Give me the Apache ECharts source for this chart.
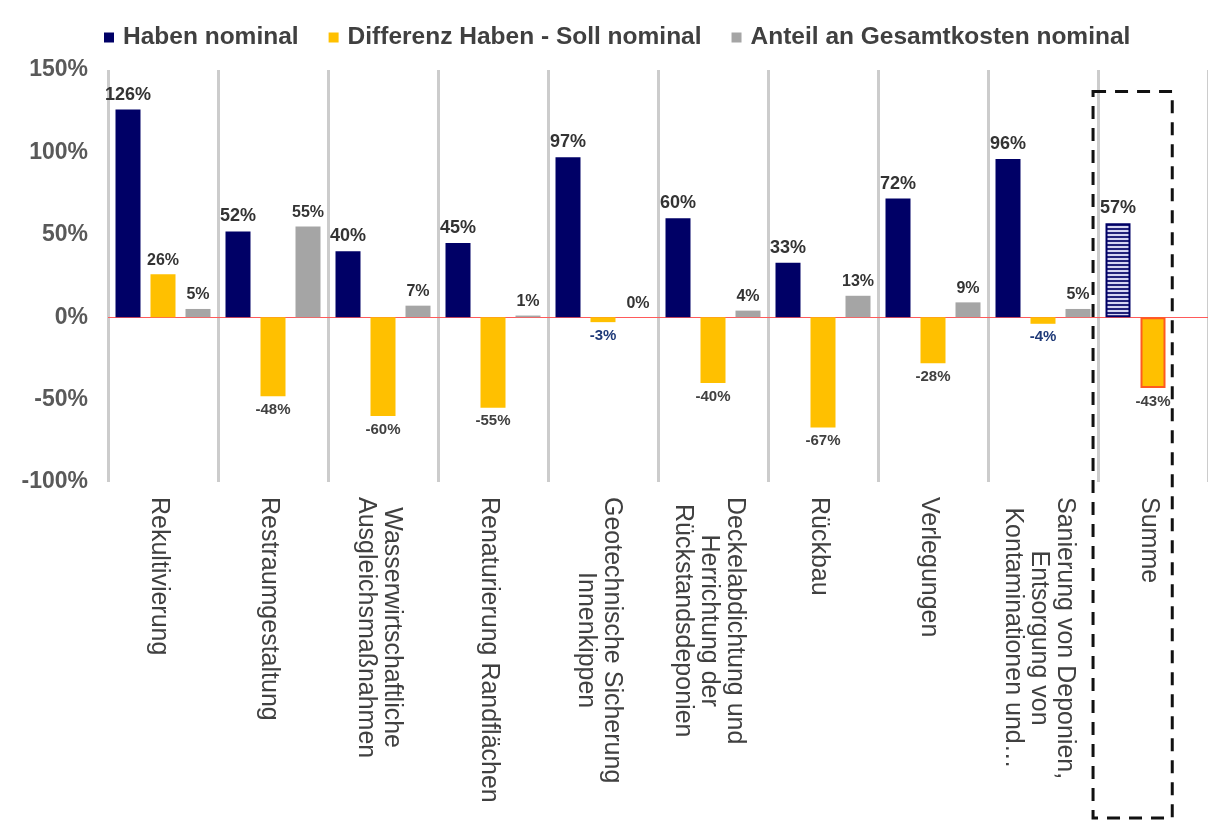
<!DOCTYPE html>
<html><head><meta charset="utf-8">
<script src="https://cdn.jsdelivr.net/npm/echarts@6/dist/echarts.min.js"></script>
<style>html,body{margin:0;padding:0;background:#fff}#c{width:1208px;height:823px}</style>
</head><body><div id="c"></div>
<script>
const categories = ['Rekultivierung','Restraumgestaltung','Wasserwirtschaftliche\nAusgleichsmaßnahmen','Renaturierung Randflächen','Geotechnische Sicherung\nInnenkippen','Deckelabdichtung und\nHerrichtung der\nRückstandsdeponien','Rückbau','Verlegungen','Sanierung von Deponien,\nEntsorgung von\nKontaminationen und…','Summe'];
const seriesNames = ['Haben nominal','Differenz Haben - Soll nominal','Anteil an Gesamtkosten nominal'];
const habenNominal = [126,52,40,45,97,60,33,72,96,57];
const differenzNominal = [26,-48,-60,-55,-3,-40,-67,-28,-4,-43];
const anteilNominal = [5,55,7,1,0,4,13,9,5,null];
const yMin = -100, yMax = 150, yInterval = 50;
const summaryIndex = 9;

const FONT = '"Liberation Sans", Arial, sans-serif';
const NAVY = '#000066', YELLOW = '#FFC000', GRAY = '#A5A5A5';

// striped pattern for the summary bar
const pc = document.createElement('canvas'); pc.width = 4; pc.height = 4;
const g = pc.getContext('2d');
g.fillStyle = '#d6d6f2'; g.fillRect(0,0,4,4);
g.fillStyle = '#22227a'; g.fillRect(0,0,4,2);

function labelFor(v, posSize, negColor){
  if (v === null) return {show:false};
  if (v < 0) return {show:true, formatter:'{c}%', position:'bottom', distance:6, fontSize:15, fontWeight:'bold', color:negColor || '#404040', fontFamily:FONT};
  return {show:true, formatter:'{c}%', position:'top', distance:6, fontSize:posSize, fontWeight:'bold', color:'#333333', fontFamily:FONT};
}

const dHaben = habenNominal.map((v,i)=>{
  const d = {value:v, label:labelFor(v,18)};
  if (i === summaryIndex) d.itemStyle = {color:{image:pc, repeat:'repeat'}, borderColor:NAVY, borderWidth:2};
  return d;
});
const dDiff = differenzNominal.map((v,i)=>{
  const d = {value:v, label:labelFor(v,16, (v<0 && v>-10) ? '#1F3A78' : '#404040')};
  if (i === summaryIndex) d.itemStyle = {color:YELLOW, borderColor:'#FF5A1F', borderWidth:2};
  return d;
});
const dAnteil = anteilNominal.map(v=>({value:v, label:labelFor(v,16)}));

const chart = echarts.init(document.getElementById('c'), null, {renderer:'canvas'});
chart.setOption({
  animation:false,
  backgroundColor:'#ffffff',
  legend:{
    data:seriesNames, left:99, top:20, icon:'rect', itemWidth:10, itemHeight:10, itemGap:30,
    textStyle:{fontFamily:FONT, fontWeight:'bold', fontSize:24.5, color:'#404040', padding:[0,0,0,4]}
  },
  grid:{left:108, right:0, top:70, bottom:341, containLabel:false},
  xAxis:{
    type:'category', data:categories,
    axisLine:{show:false}, axisTick:{show:false},
    splitLine:{show:true, interval:0, lineStyle:{color:'#cccccc', width:3}},
    axisLabel:{
      interval:0, rotate:-90, margin:15, padding:[8,0,0,0],
      formatter:(v)=>v.split('\n').map(l=>'{c|'+l+'}').join('\n'),
      rich:{c:{align:'center', fontFamily:FONT, fontSize:25, lineHeight:26, color:'#404040'}}
    }
  },
  yAxis:{
    type:'value', min:yMin, max:yMax, interval:yInterval,
    axisLine:{show:false}, axisTick:{show:false}, splitLine:{show:false},
    axisLabel:{formatter:'{value}%', margin:20, fontFamily:FONT, fontWeight:'bold', fontSize:23, color:'#595959'}
  },
  series:[
    {name:seriesNames[0], type:'bar', data:dHaben, barWidth:25, barGap:'40%', itemStyle:{color:NAVY},
     markLine:{silent:true, symbol:'none', label:{show:false}, lineStyle:{color:'#ff5a5a', width:1, type:'solid'}, data:[{yAxis:0}], z:1}},
    {name:seriesNames[1], type:'bar', data:dDiff, barWidth:25, barGap:'40%', itemStyle:{color:YELLOW}},
    {name:seriesNames[2], type:'bar', data:dAnteil, barWidth:25, barGap:'40%', itemStyle:{color:GRAY}}
  ]
});

// dashed highlight box around the summary category
const cx = chart.convertToPixel({xAxisIndex:0}, summaryIndex);
const band = (chart.getWidth() - 108) / categories.length;
const topY = chart.convertToPixel({yAxisIndex:0}, 137);
chart.setOption({graphic:[{
  type:'rect', silent:true, z:100,
  shape:{x:cx - 0.545*band, y:topY, width:0.72*band, height:818 - topY},
  style:{fill:'none', stroke:'#111', lineWidth:3, lineDash:[13,9]}
}]});
</script>
</body></html>
